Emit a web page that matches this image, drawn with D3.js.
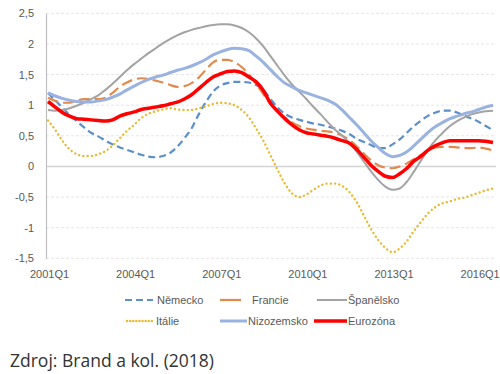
<!DOCTYPE html>
<html>
<head>
<meta charset="utf-8">
<title>Eurozóna</title>
<style>
  body { margin: 0; background: #fff; }
  .tick text { font-family: "Liberation Sans", Arial, sans-serif; font-size: 11px; fill: #595959; }
  .legend text { font-family: "Liberation Sans", Arial, sans-serif; font-size: 11px; fill: #595959; }
  .source { font-family: "Open Sans", sans-serif; font-size: 17.5px; fill: #333; }
</style>
</head>
<body>
<script src="https://cdnjs.cloudflare.com/ajax/libs/d3/7.8.5/d3.min.js"></script>
<script>
// quarters 2001Q1 .. 2016Q3
var quarters = [];
for (var yr = 2001; yr <= 2016; yr++) {
  for (var q = 1; q <= 4; q++) {
    if (yr === 2016 && q > 3) break;
    quarters.push(yr + "Q" + q);
  }
}
var xTicks = ["2001Q1", "2004Q1", "2007Q1", "2010Q1", "2013Q1", "2016Q1"];
var yTicks = [2.5, 2, 1.5, 1, 0.5, 0, -0.5, -1, -1.5];

var nemecko = [1.20, 1.08, 0.96, 0.84, 0.74, 0.64, 0.55, 0.49, 0.42, 0.36, 0.31, 0.27, 0.23, 0.19, 0.16, 0.15,
  0.17, 0.22, 0.32, 0.46, 0.62, 0.85, 1.05, 1.22, 1.32, 1.36, 1.38, 1.38, 1.37, 1.33, 1.25, 1.10,
  0.96, 0.86, 0.80, 0.76, 0.73, 0.70, 0.68, 0.65, 0.62, 0.58, 0.53, 0.45, 0.40, 0.35, 0.30, 0.30,
  0.36, 0.44, 0.55, 0.66, 0.75, 0.83, 0.88, 0.91, 0.91, 0.88, 0.83, 0.78, 0.73, 0.66, 0.59];
var francie = [1.12, 1.07, 1.04, 1.04, 1.07, 1.10, 1.10, 1.10, 1.12, 1.20, 1.30, 1.37, 1.42, 1.44, 1.43, 1.40,
  1.37, 1.33, 1.30, 1.31, 1.36, 1.45, 1.58, 1.70, 1.74, 1.74, 1.70, 1.62, 1.50, 1.35, 1.18, 1.02,
  0.90, 0.80, 0.72, 0.66, 0.62, 0.60, 0.58, 0.57, 0.55, 0.50, 0.43, 0.33, 0.21, 0.10, 0.02, -0.02,
  -0.03, 0.00, 0.05, 0.12, 0.19, 0.26, 0.31, 0.32, 0.32, 0.31, 0.30, 0.30, 0.31, 0.29, 0.26];
var spanelsko = [0.92, 0.91, 0.92, 0.95, 0.99, 1.04, 1.10, 1.16, 1.25, 1.35, 1.46, 1.57, 1.67, 1.76, 1.85, 1.93,
  2.01, 2.08, 2.14, 2.19, 2.23, 2.26, 2.29, 2.31, 2.32, 2.32, 2.30, 2.26, 2.19, 2.09, 1.96, 1.80,
  1.64, 1.48, 1.34, 1.22, 1.10, 0.97, 0.85, 0.72, 0.60, 0.50, 0.38, 0.24, 0.08, -0.08, -0.22, -0.33,
  -0.38, -0.36, -0.25, -0.08, 0.10, 0.28, 0.43, 0.55, 0.66, 0.74, 0.80, 0.85, 0.88, 0.90, 0.91];
var italie = [0.75, 0.60, 0.42, 0.28, 0.20, 0.17, 0.17, 0.20, 0.25, 0.34, 0.46, 0.58, 0.68, 0.79, 0.86, 0.90,
  0.93, 0.95, 0.93, 0.92, 0.92, 0.95, 0.98, 1.02, 1.04, 1.03, 1.00, 0.92, 0.80, 0.62, 0.42, 0.18,
  -0.06, -0.28, -0.44, -0.50, -0.46, -0.38, -0.31, -0.28, -0.28, -0.32, -0.42, -0.58, -0.80, -1.02, -1.20, -1.33,
  -1.40, -1.34, -1.22, -1.05, -0.90, -0.76, -0.66, -0.60, -0.57, -0.53, -0.51, -0.47, -0.43, -0.39, -0.36];
var nizozemsko = [1.20, 1.15, 1.11, 1.08, 1.06, 1.05, 1.05, 1.07, 1.09, 1.13, 1.18, 1.25, 1.31, 1.37, 1.42, 1.46,
  1.49, 1.53, 1.57, 1.60, 1.64, 1.69, 1.75, 1.82, 1.87, 1.91, 1.93, 1.92, 1.89, 1.80, 1.70, 1.58,
  1.46, 1.36, 1.30, 1.24, 1.20, 1.16, 1.12, 1.08, 1.02, 0.92, 0.80, 0.68, 0.55, 0.42, 0.31, 0.21,
  0.16, 0.18, 0.24, 0.34, 0.45, 0.56, 0.65, 0.72, 0.78, 0.82, 0.86, 0.89, 0.93, 0.97, 1.00];
var eurozona = [1.06, 0.97, 0.88, 0.82, 0.78, 0.77, 0.76, 0.75, 0.74, 0.76, 0.82, 0.86, 0.89, 0.93, 0.95, 0.97,
  0.99, 1.02, 1.05, 1.10, 1.17, 1.27, 1.37, 1.46, 1.51, 1.55, 1.56, 1.53, 1.46, 1.38, 1.24, 1.03,
  0.90, 0.78, 0.68, 0.60, 0.55, 0.53, 0.51, 0.49, 0.46, 0.42, 0.38, 0.28, 0.15, 0.02, -0.08, -0.16,
  -0.18, -0.12, -0.03, 0.09, 0.17, 0.27, 0.34, 0.39, 0.42, 0.42, 0.42, 0.42, 0.42, 0.41, 0.39];

var series = [
  {name: "Německo", values: nemecko, color: "#5b8fc9", width: 2.2, dash: "7,4", cap: "butt"},
  {name: "Francie", values: francie, color: "#e08a4e", width: 2.2, dash: "11,5", cap: "butt"},
  {name: "Španělsko", values: spanelsko, color: "#a3a3a3", width: 2, dash: null, cap: "butt"},
  {name: "Itálie", values: italie, color: "#e6bb33", width: 2.4, dash: "0.1,4.2", cap: "round"},
  {name: "Nizozemsko", values: nizozemsko, color: "#9ab2e0", width: 3, dash: null, cap: "butt"},
  {name: "Eurozóna", values: eurozona, color: "#ff0000", width: 3.5, dash: null, cap: "butt"}
];

var width = 500, height = 374;
var svg = d3.select("body").append("svg")
    .attr("width", width)
    .attr("height", height);

var x = d3.scalePoint().domain(quarters).range([48, 493]);
var y = d3.scaleLinear().domain([-1.5, 2.5]).range([258.3, 13.3]);

// gridlines
svg.append("g")
  .selectAll("line")
  .data(yTicks)
  .enter().append("line")
    .attr("x1", 46).attr("x2", 496)
    .attr("y1", function(d) { return y(d); })
    .attr("y2", function(d) { return y(d); })
    .attr("stroke", function(d) { return d === 0 ? "#d4d4d4" : "#e6e6e6"; })
    .attr("stroke-width", function(d) { return d === 0 ? 1.5 : 1; })
    .attr("stroke-dasharray", function(d) { return d === 0 ? null : "3,2"; });

// y axis
var yAxis = svg.append("g")
    .attr("transform", "translate(46,0)")
    .call(d3.axisLeft(y).tickValues(yTicks).tickSize(0).tickPadding(12)
      .tickFormat(function(d) { return String(d).replace(".", ","); }));
yAxis.select(".domain").attr("stroke", "#bfbfbf").attr("stroke-width", 1.2);

// x axis labels
var xAxis = svg.append("g")
    .attr("transform", "translate(1," + 266 + ")")
    .call(d3.axisBottom(x).tickValues(xTicks).tickSize(0).tickPadding(4));
xAxis.select(".domain").remove();

var line = d3.line()
    .x(function(d, i) { return x(quarters[i]); })
    .y(function(d) { return y(d); })
    .curve(d3.curveMonotoneX);

svg.append("g")
  .selectAll("path")
  .data(series)
  .enter().append("path")
    .attr("d", function(s) { return line(s.values); })
    .attr("fill", "none")
    .attr("stroke", function(s) { return s.color; })
    .attr("stroke-width", function(s) { return s.width; })
    .attr("stroke-dasharray", function(s) { return s.dash; })
    .attr("stroke-linecap", function(s) { return s.cap; });

// legend
var legendPos = [
  {x: 125, y: 300, len: 28, tx: 157},
  {x: 220, y: 300, len: 21, tx: 252},
  {x: 317, y: 300, len: 30, tx: 348},
  {x: 127, y: 321, len: 26, tx: 156},
  {x: 220, y: 321, len: 27, tx: 248},
  {x: 314, y: 321, len: 33, tx: 348}
];
var legend = svg.append("g").attr("class", "legend");
series.forEach(function(s, i) {
  var p = legendPos[i];
  legend.append("line")
    .attr("x1", p.x).attr("x2", p.x + p.len)
    .attr("y1", p.y).attr("y2", p.y)
    .attr("stroke", s.color)
    .attr("stroke-width", s.width)
    .attr("stroke-dasharray", s.name === "Francie" ? null : (s.name === "Itálie" ? "0.1,3" : s.dash))
    .attr("stroke-linecap", s.cap);
  legend.append("text")
    .attr("x", p.tx).attr("y", p.y + 4)
    .text(s.name);
});

svg.append("text")
  .attr("class", "source")
  .attr("x", 10).attr("y", 367)
  .text("Zdroj: Brand a kol. (2018)");
</script>
</body>
</html>
